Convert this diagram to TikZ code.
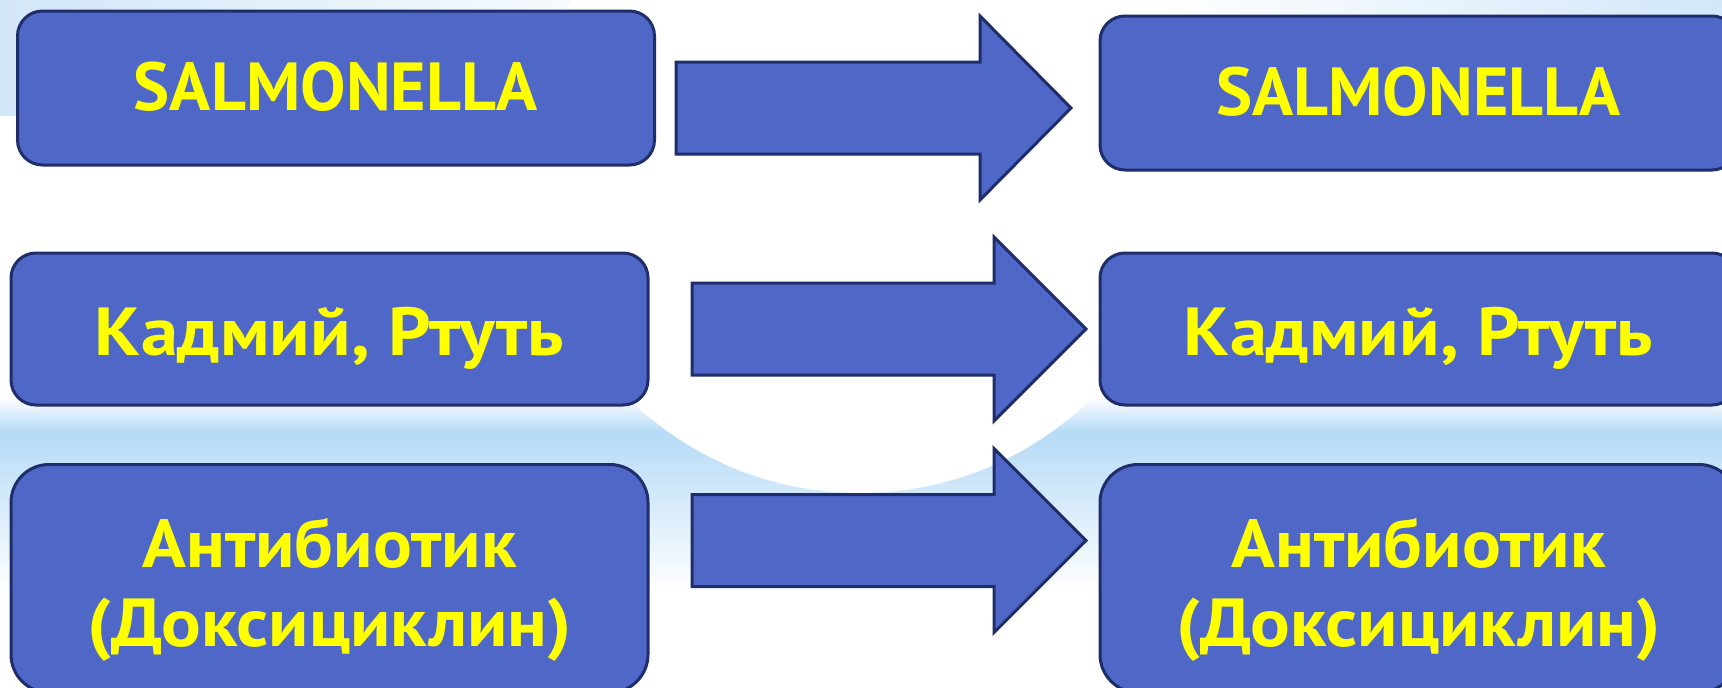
\documentclass[tikz,border=0pt]{standalone}
\usepackage{graphicx}
\usepackage{fontspec}
\setmainfont{PT Sans}
\definecolor{boxfill}{HTML}{4F68C8}
\definecolor{boxline}{HTML}{1F2D6B}
\definecolor{txt}{HTML}{FFFF00}
\definecolor{bandblue}{HTML}{B6DBF7}
\definecolor{paleblue}{HTML}{D2E7F8}
\tikzset{
  box/.style={draw=boxline, line width=3pt, fill=boxfill, rounded corners=#1, inner sep=0pt, minimum width=637pt},
  lbl/.style={text=txt, font=\fontsize{68}{79}\selectfont\bfseries, inner sep=0pt, anchor=base},
  barrow/.style={draw=boxline, line width=3pt, fill=boxfill, line join=miter}
}
\newcommand\blockarrow[4]{%
  \draw[barrow] (#1,#4-46) -- (#2,#4-46) -- (#2,#4-92) -- (#3,#4) -- (#2,#4+92) -- (#2,#4+46) -- (#1,#4+46) -- cycle;}
\newcommand\widetxt[2]{\scalebox{#1}[1]{#2}}
\begin{document}
\begin{tikzpicture}[x=1pt,y=-1pt]
\useasboundingbox (0,0) rectangle (1722,688);
\begin{scope}
\clip (0,0) rectangle (1722,688);
% background
\fill[white] (0,0) rectangle (1722,688);
\shade[left color=paleblue, right color=white] (0,0) rectangle (720,115);
\shade[left color=white, right color=paleblue] (1150,0) rectangle (1722,120);
\shade[top color=white, bottom color=bandblue] (0,396) rectangle (1722,432);
\shade[top color=bandblue, bottom color=white] (0,432) rectangle (1722,592);
\fill[white] (860,162) circle (331pt);
% boxes
\node[box=25pt, minimum height=154pt] (b1) at (336,88) {};
\node[box=25pt, minimum height=154pt] (b2) at (1418.5,93) {};
\node[box=25pt, minimum height=152pt] (b3) at (329.5,329) {};
\node[box=25pt, minimum height=152pt] (b4) at (1418.5,329) {};
\node[box=38pt, minimum height=228pt] (b5) at (329.5,578.5) {};
\node[box=38pt, minimum height=228pt] (b6) at (1418.5,578.5) {};
% arrows
\blockarrow{676}{980}{1071}{108}
\blockarrow{692}{994}{1086}{329}
\blockarrow{692}{994}{1086}{540.5}
% labels
\node[lbl] (t1) at (336,110) {SALMONELLA};
\node[lbl] (t2) at (1418.5,115) {SALMONELLA};
\node[lbl] (t3) at (329.5,355) {\widetxt{1.095}{Кадмий, Ртуть}};
\node[lbl] (t4) at (1418.5,355) {\widetxt{1.095}{Кадмий, Ртуть}};
\node[lbl] (t5a) at (329.5,567) {\widetxt{1.065}{Антибиотик}};
\node[lbl] (t5b) at (329.5,646) {\widetxt{1.09}{(Доксициклин)}};
\node[lbl] (t6a) at (1418.5,567) {\widetxt{1.065}{Антибиотик}};
\node[lbl] (t6b) at (1418.5,646) {\widetxt{1.09}{(Доксициклин)}};
\end{scope}
\end{tikzpicture}
\end{document}
